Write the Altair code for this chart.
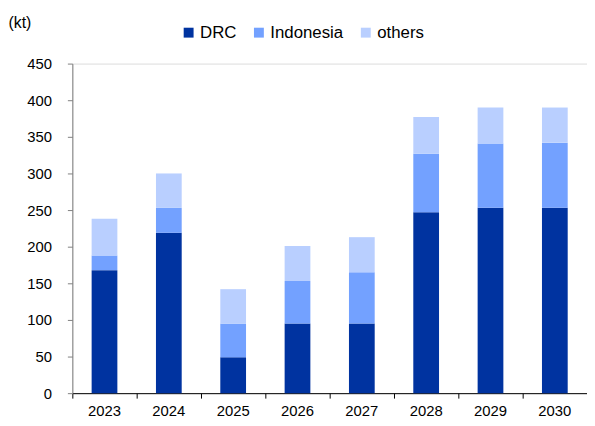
import altair as alt
import pandas as pd

years = ["2023", "2024", "2025", "2026", "2027", "2028", "2029", "2030"]
drc = [168, 219, 49, 95, 95, 247, 253, 253]
indonesia = [20, 34, 46, 58, 70, 80, 88, 89]
others = [50, 47, 47, 48, 48, 50, 49, 48]

series = ["DRC", "Indonesia", "others"]
colors = ["#0033A0", "#73A1FF", "#B9CFFF"]

rows = []
for i, y in enumerate(years):
    for k, (name, vals) in enumerate(zip(series, [drc, indonesia, others])):
        rows.append({"year": y, "series": name, "value": vals[i], "order": k})
df = pd.DataFrame(rows)

FONT = "Liberation Sans, Arial"

chart = (
    alt.Chart(df)
    .mark_bar(width=alt.RelativeBandSize(0.4))
    .encode(
        x=alt.X(
            "year:N",
            title=None,
            sort=years,
            scale=alt.Scale(paddingInner=0, paddingOuter=0),
            axis=alt.Axis(
                bandPosition=0,
                labelAngle=0,
                labelFont=FONT,
                labelFontSize=15,
                labelColor="#000000",
                labelPadding=6,
                domainColor="#000000",
                domainWidth=1,
                tickColor="#000000",
                tickSize=5,
                grid=False,
            ),
        ),
        y=alt.Y(
            "value:Q",
            stack="zero",
            scale=alt.Scale(domain=[0, 450], nice=False),
            axis=alt.Axis(
                values=list(range(0, 451, 50)),
                title="(kt)",
                titleAngle=0,
                titleAlign="left",
                titleBaseline="top",
                titleX=-65,
                titleY=-49,
                titleFont=FONT,
                titleFontSize=16,
                titleFontWeight="normal",
                titleColor="#000000",
                labelFont=FONT,
                labelFontSize=15,
                labelColor="#000000",
                labelPadding=16,
                domainColor="#808080",
                tickColor="#808080",
                tickSize=5,
                grid=False,
            ),
        ),
        color=alt.Color(
            "series:N",
            scale=alt.Scale(domain=series, range=colors),
            legend=alt.Legend(
                title=None,
                orient="none",
                direction="horizontal",
                legendX=109,
                legendY=-40,
                symbolType="square",
                symbolSize=100,
                symbolStrokeWidth=0,
                labelFont=FONT,
                labelFontSize=17,
                labelColor="#000000",
                labelOffset=3,
                columnPadding=14,
            ),
        ),
        order=alt.Order("order:Q", sort="ascending"),
    )
    .properties(
        width=520,
        height=333,
        autosize=alt.AutoSizeParams(type="none"),
        padding={"left": 65, "top": 54, "right": 0, "bottom": 31},
    )
    .configure_view(stroke=None)
    .configure(background="white")
)

chart.save("out.html", embed_options={"renderer": "svg", "actions": False})
